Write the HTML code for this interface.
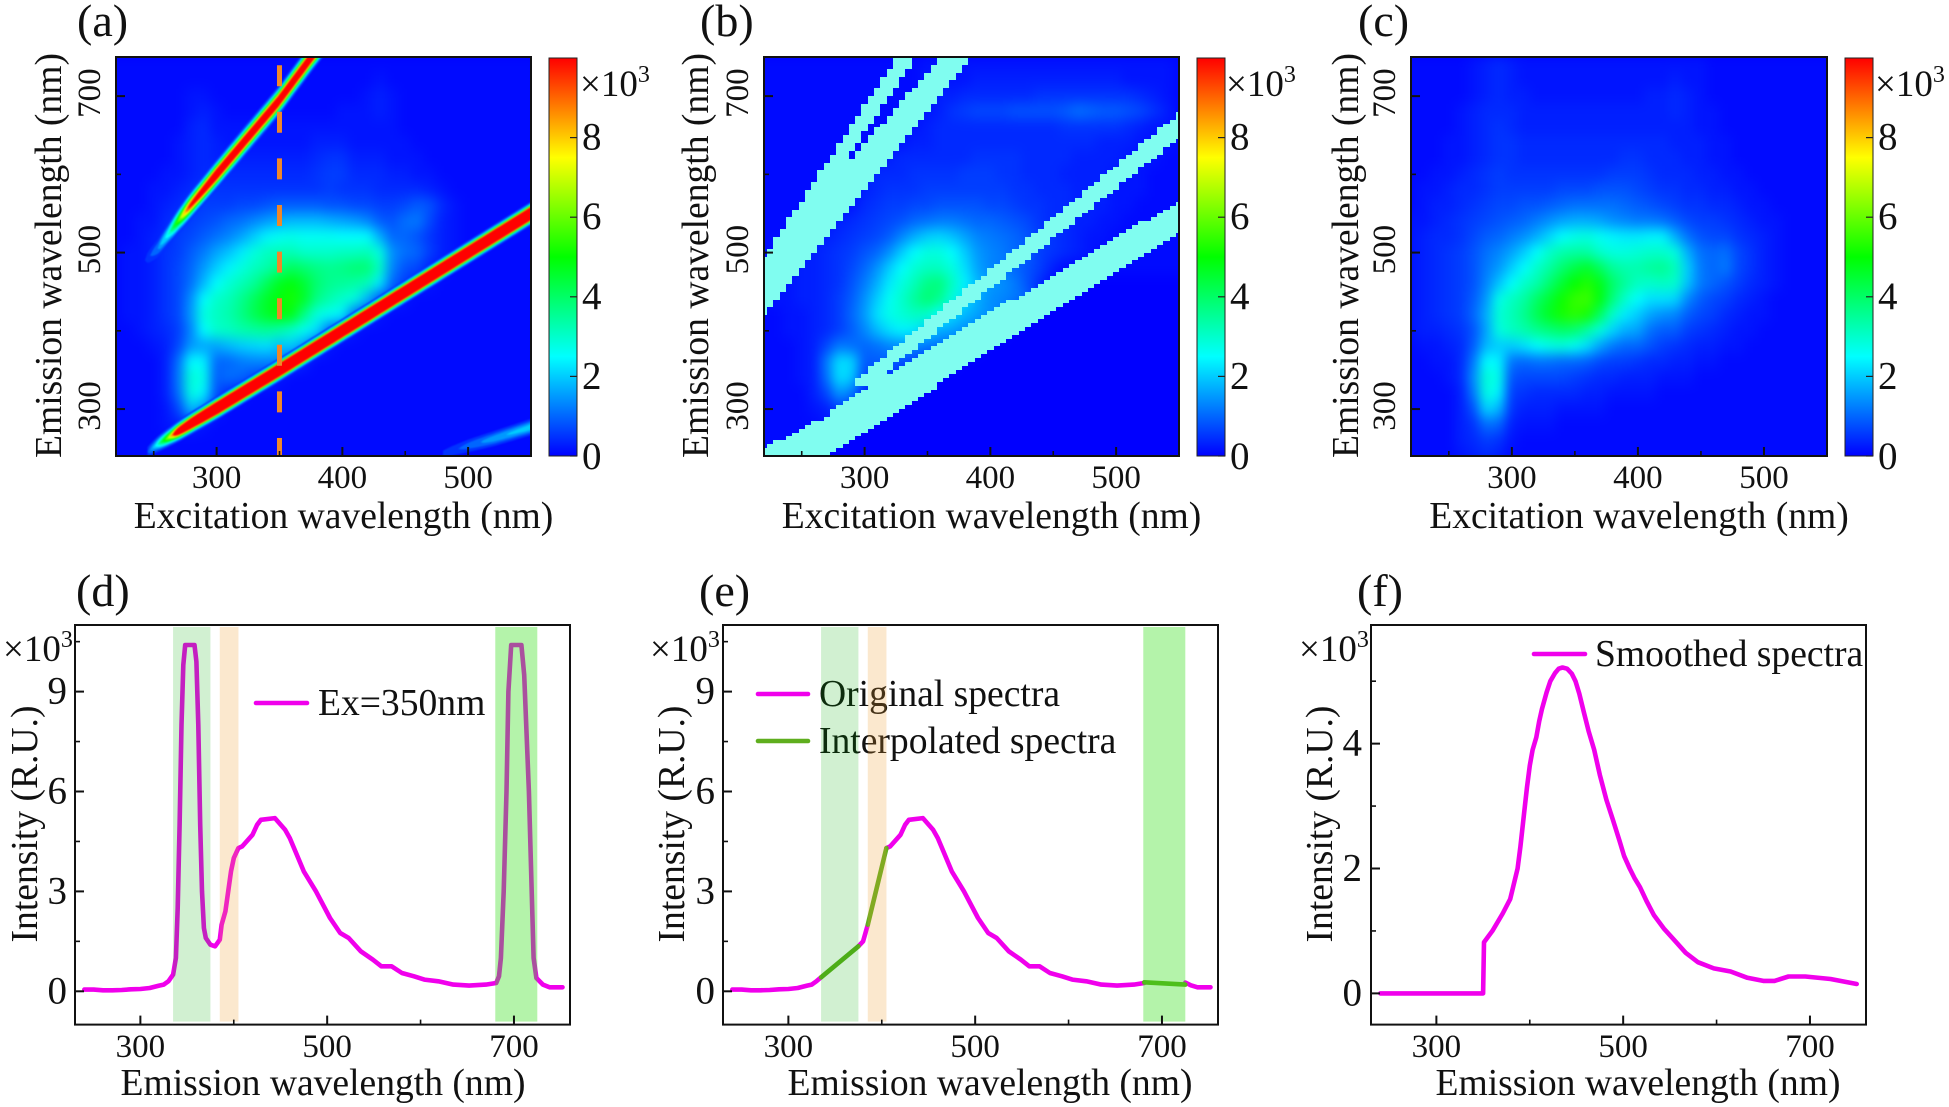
<!DOCTYPE html>
<html lang="en">
<head>
<meta charset="utf-8">
<title>Excitation-emission matrices and spectra</title>
<style>
html,body{margin:0;padding:0;background:#fff;width:1949px;height:1107px;overflow:hidden}
svg{display:block}
text{font-family:"Liberation Serif",serif;fill:#111}
</style>
</head>
<body>
<svg id="figure" xmlns="http://www.w3.org/2000/svg" width="1949" height="1107" viewBox="0 0 1949 1107">
<defs>
<filter id="heat-blur" x="-5%" y="-5%" width="110%" height="110%" color-interpolation-filters="sRGB"><feGaussianBlur stdDeviation="5.5 6.5"/></filter>
<filter id="band-blur" x="-5%" y="-5%" width="110%" height="110%" color-interpolation-filters="sRGB"><feGaussianBlur stdDeviation="0.9"/></filter>
</defs>
<rect x="0" y="0" width="1949" height="1107" fill="#ffffff"/>
</svg>
<script>
/* ---------- heatmap axes and values (intensity x10^3) ---------- */
const excitationValues=[220,230,240,250,260,270,280,290,300,310,320,330,340,350,360,370,380,390,400,410,420,430,440,450,460,470,480,490,500,510,520,530,540,550];
const emissionValues=[740,720,700,680,660,640,620,600,580,560,540,520,500,480,460,440,420,400,380,360,340,320,300,280,260,240];
const heatTicksX=[300,400,500];
const heatMinorTicksX=[250,350,450];
const heatTicksY=[300,500,700];
const heatMinorTicksY=[400,600];
const colorbarTicks=[0,2,4,6,8];
const colormapLevels=[0,2.5,5,7.5,10];
const colormapReds=[0,0,0,255,255];
const colormapGreens=[0,255,255,255,0];
const colormapBlues=[255,255,0,0,0];

const panelAValues=[
[.1,.1,.1,.1,.1,.1,.1,.1,.1,.1,.1,.1,.1,.1,.1,.1,.1,.1,.1,.1,.1,.1,.1,.1,.1,.1,.1,.1,.1,.1,.1,.1,.1,.1],
[.1,.1,.1,.1,.1,.1,.1,.1,.1,.1,.1,.1,.1,.1,.1,.1,.1,.1,.1,.1,.1,.2,.1,.1,.1,.1,.1,.1,.1,.1,.1,.1,.1,.1],
[.1,.1,.1,.1,.1,.1,.2,.2,.1,.1,.1,.1,.1,.1,.1,.1,.1,.1,.1,.1,.2,.3,.2,.1,.1,.1,.1,.1,.1,.1,.1,.1,.1,.1],
[.1,.1,.1,.1,.1,.1,.2,.3,.2,.1,.1,.1,.1,.1,.1,.1,.1,.1,.2,.2,.2,.3,.2,.1,.1,.1,.1,.1,.1,.1,.1,.1,.1,.1],
[.1,.1,.1,.1,.1,.1,.3,.4,.2,.2,.2,.2,.2,.2,.2,.2,.2,.2,.2,.2,.2,.2,.2,.1,.1,.1,.1,.1,.1,.1,.1,.1,.1,.1],
[.1,.1,.1,.1,.1,.2,.3,.4,.3,.2,.2,.2,.2,.2,.2,.2,.3,.3,.3,.2,.2,.2,.2,.2,.1,.1,.1,.1,.1,.1,.1,.1,.1,.1],
[.1,.1,.1,.1,.1,.2,.3,.4,.3,.3,.3,.3,.3,.3,.3,.3,.4,.5,.5,.3,.3,.3,.2,.2,.2,.1,.1,.1,.1,.1,.1,.1,.1,.1],
[.1,.1,.1,.1,.2,.2,.3,.4,.4,.4,.4,.4,.4,.4,.4,.4,.5,.6,.6,.4,.4,.4,.3,.3,.2,.2,.1,.1,.1,.1,.1,.1,.1,.1],
[.1,.1,.1,.2,.2,.3,.4,.5,.5,.5,.5,.5,.5,.5,.5,.5,.5,.6,.5,.5,.5,.4,.4,.4,.4,.3,.2,.1,.1,.1,.1,.1,.1,.1],
[.1,.1,.1,.2,.3,.4,.5,.6,.6,.6,.7,.7,.8,.9,.9,.9,.9,.8,.8,.7,.7,.6,.6,.7,.9,.8,.4,.2,.1,.1,.1,.1,.1,.1],
[.1,.1,.2,.2,.4,.5,.6,.7,.8,1,1.1,1.3,1.5,1.7,1.8,1.8,1.8,1.7,1.6,1.5,1.3,.9,.8,1.1,1.2,.7,.3,.2,.1,.1,.1,.1,.1,.1],
[.1,.1,.2,.3,.4,.6,.7,.9,1.1,1.3,1.6,2,2.4,2.6,2.7,2.6,2.6,2.6,2.5,2.5,2.5,1.7,1,1,.8,.5,.3,.2,.1,.1,.1,.1,.1,.1],
[.1,.2,.2,.3,.5,.6,.9,1.2,1.6,1.9,2.3,2.8,3.1,3.2,3.2,3,3,3,3.1,3.1,3.2,2.8,1.4,1.1,1,.6,.3,.2,.1,.1,.1,.1,.1,.1],
[.1,.2,.2,.3,.5,.7,1,1.5,2,2.4,2.8,3.1,3.3,3.7,4.1,3.9,3.7,3.6,3.7,3.9,3.9,3.1,1.3,.8,.7,.3,.2,.1,.1,.1,.1,.1,.1,.1],
[.1,.2,.2,.3,.5,.7,1.1,1.8,2.5,2.9,3.2,3.5,4.1,4.7,4.9,4.5,3.9,3.6,3.5,3.4,3.2,2.3,1,.6,.3,.2,.1,.1,.1,.1,.1,.1,.1,.1],
[.1,.2,.2,.3,.5,.7,1.4,2.5,3,3.2,3.6,4.1,4.6,4.9,5.2,4.6,3.7,3.3,3,2.8,1.8,.8,.4,.2,.1,.1,.1,.1,.1,.1,.1,.1,.1,.1],
[.1,.2,.2,.3,.5,.7,1.5,2.8,3.1,3.3,3.7,4.2,4.6,4.9,4.8,3.7,2.8,2.6,2.4,1,.5,.2,.1,.1,.1,.1,.1,.1,.1,.1,.1,.1,.1,.1],
[.1,.1,.2,.3,.4,.6,1.3,2.5,3,3.1,3.3,3.4,3.5,3.3,3,2.6,2.2,1,.5,.2,.1,.1,.1,.1,.1,.1,.1,.1,.1,.1,.1,.1,.1,.1],
[.1,.1,.1,.2,.3,.7,1.5,1.6,1.6,1.8,2,2.1,2.2,1.9,2,1.5,.6,.2,.1,.1,.1,.1,.1,.1,.1,.1,.1,.1,.1,.1,.1,.1,.1,.1],
[.1,.1,.1,.1,.3,1.1,2.5,2.4,1,1,1.2,1.3,1.3,1.3,.7,.3,.1,.1,.1,.1,.1,.1,.1,.1,.1,.1,.1,.1,.1,.1,.1,.1,.1,.1],
[.1,.1,.1,.1,.3,1.2,2.9,2.7,.9,1.1,1,.7,.5,.2,.1,.1,.1,.1,.1,.1,.1,.1,.1,.1,.1,.1,.1,.1,.1,.1,.1,.1,.1,.1],
[.1,.1,.1,.1,.3,1.1,2.8,2.4,.8,.4,.2,.1,.1,.1,.1,.1,.1,.1,.1,.1,.1,.1,.1,.1,.1,.1,.1,.1,.1,.1,.1,.1,.1,.1],
[.1,.1,.1,.1,.2,.7,1.9,1.4,.3,.1,.1,.1,.1,.1,.1,.1,.1,.1,.1,.1,.1,.1,.1,.1,.1,.1,.1,.1,.1,.1,.1,.1,.1,.1],
[.1,.1,.1,.1,.2,.3,.4,.2,.1,.1,.1,.1,.1,.1,.1,.1,.1,.1,.1,.1,.1,.1,.1,.1,.1,.1,.1,.1,.1,.1,.1,.1,.1,.1],
[.1,.1,.1,.1,.1,.1,.1,.1,.1,.1,.1,.1,.1,.1,.1,.1,.1,.1,.1,.1,.1,.1,.1,.1,.1,.1,.1,.1,.1,.1,.1,.1,.1,.1],
[.1,.1,.1,.1,.1,.1,.1,.1,.1,.1,.1,.1,.1,.1,.1,.1,.1,.1,.1,.1,.1,.1,.1,.1,.1,.1,.1,.1,.1,.1,.1,.1,.1,.1]
];

const panelBValues=[
[.1,.1,.1,.1,.1,.1,.1,.1,.1,.1,.1,.1,.1,.2,.2,.2,.2,.2,.2,.2,.2,.2,.2,.2,.2,.2,.2,.2,.2,.2,.2,.2,.2,.1],
[.1,.1,.1,.1,.1,.1,.1,.1,.1,.1,.1,.1,.1,.2,.2,.2,.2,.3,.3,.3,.3,.3,.3,.3,.3,.3,.3,.3,.3,.2,.2,.2,.2,.1],
[.1,.1,.1,.1,.1,.1,.1,.1,.1,.1,.1,.1,.1,.2,.3,.3,.4,.4,.4,.4,.4,.4,.5,.5,.5,.5,.5,.5,.5,.5,.4,.3,.2,.1],
[.1,.1,.1,.1,.1,.1,.1,.1,.1,.1,.1,.1,.2,.2,.3,.5,.6,.7,.7,.7,.8,.8,.8,.8,.9,1.1,1,.9,.9,.8,.7,.5,.3,.1],
[.1,.1,.1,.1,.1,.1,.1,.1,.1,.1,.1,.2,.2,.3,.4,.4,.4,.4,.4,.4,.4,.4,.4,.4,.5,.5,.5,.5,.5,.4,.3,.2,.2,.1],
[.1,.1,.1,.1,.1,.1,.1,.1,.1,.1,.2,.2,.3,.3,.4,.4,.4,.4,.4,.4,.4,.4,.4,.4,.4,.4,.4,.3,.3,.3,.2,.2,.2,.1],
[.1,.1,.1,.1,.1,.1,.1,.1,.1,.2,.3,.4,.4,.4,.4,.4,.4,.5,.5,.5,.5,.4,.4,.4,.4,.3,.3,.3,.3,.2,.2,.2,.1,.1],
[.1,.1,.1,.1,.1,.1,.1,.1,.3,.4,.4,.4,.5,.5,.5,.5,.6,.6,.6,.5,.5,.4,.4,.4,.3,.3,.3,.3,.2,.2,.2,.1,.1,.1],
[.1,.1,.1,.1,.1,.1,.1,.1,.3,.4,.5,.5,.5,.6,.6,.6,.6,.6,.6,.6,.5,.5,.4,.4,.4,.3,.3,.3,.2,.2,.2,.1,.1,.1],
[.1,.1,.1,.1,.1,.1,.1,.2,.4,.5,.6,.6,.7,.7,.8,.8,.8,.8,.7,.7,.6,.5,.5,.4,.4,.3,.3,.3,.2,.2,.1,.1,.1,.1],
[.1,.1,.1,.1,.1,.2,.3,.4,.5,.6,.7,.8,1,1.1,1.2,1.2,1.1,1,1,.9,.8,.7,.5,.4,.4,.3,.3,.2,.2,.1,.1,.1,.1,.1],
[.1,.1,.1,.2,.3,.3,.4,.5,.6,.7,.9,1.3,1.7,2,2.1,1.9,1.6,1.3,1.2,1.1,1,.8,.6,.5,.4,.3,.2,.2,.1,.1,.1,.1,.1,.1],
[.1,.2,.2,.3,.3,.4,.5,.6,.8,1,1.4,2,2.5,2.8,2.8,2.5,2,1.5,1.3,1.2,1,.9,.6,.5,.4,.3,.2,.1,.1,.1,.1,.1,.1,.1],
[.1,.2,.2,.3,.3,.4,.5,.7,1,1.4,2,2.5,2.9,3.1,3.1,2.8,2.2,1.6,1.3,1.2,1,.8,.6,.3,.1,.1,.1,.1,.1,.1,.1,.1,.1,.1],
[.1,.2,.2,.3,.3,.4,.5,.8,1.2,1.7,2.3,2.8,3.2,3.7,3.8,3.1,2.4,1.8,1.5,1.4,1.2,.8,.4,.1,0,0,0,0,0,0,0,0,0,0],
[.1,.2,.2,.3,.3,.4,.6,.9,1.4,2,2.6,3,3.5,3.9,3.6,2.8,2.2,1.7,1.4,1.3,1.2,1,.2,0,0,0,0,0,0,0,0,0,0,0],
[.1,.1,.2,.2,.3,.4,.6,1,1.5,2.2,2.7,2.9,3.1,3,2.5,2.1,1.8,1.6,1.4,1.2,.5,0,0,0,0,0,0,0,0,0,0,0,0,0],
[.1,.1,.2,.2,.3,.4,.6,.9,1.3,1.8,2.2,2.4,2.3,2,1.7,1.6,1.4,1.2,.6,.1,0,0,0,0,0,0,0,0,0,0,0,0,0,0],
[.1,.1,.1,.2,.3,.7,1.2,1.1,1,1.1,1.3,1.4,1.3,1.2,1.1,1,.8,.1,0,0,0,0,0,0,0,0,0,0,0,0,0,0,0,0],
[.1,.1,.1,.2,.3,1.2,2.2,2.1,.9,.9,.9,.8,.7,.5,.3,.1,0,0,0,0,0,0,0,0,0,0,0,0,0,0,0,0,0,0],
[.1,.1,.1,.2,.3,1.1,2.2,2,.7,.6,.5,.3,.1,0,0,0,0,0,0,0,0,0,0,0,0,0,0,0,0,0,0,0,0,0],
[.1,.1,.1,.1,.3,.7,1.5,1.2,.4,.3,.1,0,0,0,0,0,0,0,0,0,0,0,0,0,0,0,0,0,0,0,0,0,0,0],
[.1,.1,.1,.1,.2,.3,.6,.5,.1,0,0,0,0,0,0,0,0,0,0,0,0,0,0,0,0,0,0,0,0,0,0,0,0,0],
[.1,.1,.1,.1,.1,.2,.2,.1,0,0,0,0,0,0,0,0,0,0,0,0,0,0,0,0,0,0,0,0,0,0,0,0,0,0],
[.1,.1,.1,.1,.1,.1,0,0,0,0,0,0,0,0,0,0,0,0,0,0,0,0,0,0,0,0,0,0,0,0,0,0,0,0],
[.1,.1,.1,.1,.1,0,0,0,0,0,0,0,0,0,0,0,0,0,0,0,0,0,0,0,0,0,0,0,0,0,0,0,0,0]
];

const panelCValues=[
[.1,.1,.1,.1,.1,.2,.3,.4,.3,.2,.2,.2,.2,.2,.2,.2,.2,.2,.2,.2,.2,.2,.2,.2,.1,.1,.1,.1,.1,.1,.1,.1,.1,.1],
[.1,.1,.1,.1,.1,.2,.3,.4,.3,.2,.2,.2,.2,.2,.2,.2,.2,.2,.2,.2,.2,.3,.2,.2,.1,.1,.1,.1,.1,.1,.1,.1,.1,.1],
[.1,.1,.1,.1,.1,.2,.3,.4,.3,.3,.2,.2,.2,.2,.2,.2,.2,.2,.2,.3,.3,.4,.3,.2,.1,.1,.1,.1,.1,.1,.1,.1,.1,.1],
[.1,.1,.1,.1,.2,.3,.4,.4,.4,.3,.3,.3,.3,.3,.3,.3,.3,.3,.3,.3,.3,.4,.3,.2,.2,.1,.1,.1,.1,.1,.1,.1,.1,.1],
[.1,.1,.1,.1,.2,.3,.4,.5,.4,.3,.3,.3,.3,.3,.3,.3,.3,.3,.3,.3,.3,.3,.3,.2,.2,.1,.1,.1,.1,.1,.1,.1,.1,.1],
[.1,.1,.1,.2,.2,.3,.4,.5,.5,.4,.4,.4,.4,.4,.4,.4,.4,.4,.4,.4,.4,.3,.3,.3,.2,.2,.1,.1,.1,.1,.1,.1,.1,.1],
[.1,.1,.1,.2,.2,.3,.4,.5,.5,.4,.4,.4,.4,.4,.4,.4,.4,.5,.5,.4,.4,.4,.3,.3,.2,.2,.1,.1,.1,.1,.1,.1,.1,.1],
[.1,.1,.2,.2,.3,.4,.5,.6,.5,.5,.5,.5,.5,.5,.5,.5,.6,.6,.6,.5,.4,.4,.4,.3,.3,.2,.2,.1,.1,.1,.1,.1,.1,.1],
[.1,.2,.2,.3,.4,.4,.5,.6,.6,.6,.6,.6,.7,.7,.7,.8,.8,.8,.7,.6,.5,.5,.4,.4,.3,.3,.2,.2,.1,.1,.1,.1,.1,.1],
[.1,.2,.3,.3,.4,.5,.6,.7,.7,.8,.8,.9,1,1.1,1.1,1.1,1.1,1,.9,.8,.7,.6,.5,.5,.4,.4,.3,.2,.2,.1,.1,.1,.1,.1],
[.2,.2,.3,.4,.5,.6,.7,.8,.9,1,1.2,1.4,1.6,1.7,1.7,1.6,1.4,1.3,1.2,1.2,1.1,.9,.7,.6,.6,.5,.4,.3,.2,.2,.1,.1,.1,.1],
[.2,.3,.4,.4,.5,.7,.9,1,1.2,1.4,1.7,2.1,2.5,2.7,2.8,2.6,2.4,2.3,2.3,2.4,2.4,1.7,1.1,.8,.7,.7,.5,.4,.3,.2,.1,.1,.1,.1],
[.2,.3,.4,.5,.6,.8,1.1,1.3,1.6,2,2.5,3,3.3,3.4,3.4,3,2.8,2.8,2.9,3,3,2.8,1.7,1.1,1,1.1,.7,.5,.3,.2,.1,.1,.1,.1],
[.2,.3,.4,.5,.6,.8,1.2,1.5,2,2.5,3,3.4,3.9,4.3,4.6,4.1,3.5,3.3,3.3,3.5,3.6,3.2,2,1.2,1,1.2,.7,.5,.3,.2,.1,.1,.1,.1],
[.2,.3,.4,.5,.6,.8,1.3,1.9,2.5,3,3.3,3.9,4.5,5,5.3,4.8,4,3.5,3.1,3,3.1,3,1.9,1.2,1,.8,.6,.4,.3,.2,.1,.1,.1,.1],
[.2,.3,.4,.5,.6,.9,1.5,2.7,3.1,3.4,4,4.5,5.1,5.5,5.6,4.9,3.8,3,2.5,2.2,2.2,2.1,1.3,.9,.7,.6,.4,.3,.2,.1,.1,.1,.1,.1],
[.2,.3,.4,.5,.6,1,1.7,2.9,3.2,3.6,4.2,4.7,5.2,5.4,5.2,4.1,3,2.3,2,1.6,1.4,1.3,.9,.7,.6,.4,.3,.2,.2,.1,.1,.1,.1,.1],
[.2,.3,.3,.4,.5,.8,1.6,2.8,3.1,3.3,3.6,3.8,4,3.9,3.4,2.8,2.1,1.7,1.6,1.1,.9,.9,.6,.5,.4,.3,.2,.2,.1,.1,.1,.1,.1,.1],
[.1,.2,.2,.3,.4,.9,1.8,2,2,2.2,2.5,2.7,2.8,2.6,2.2,1.6,1.2,1,1,.8,.6,.5,.4,.3,.3,.2,.2,.1,.1,.1,.1,.1,.1,.1],
[.1,.1,.2,.2,.4,1.2,2.5,2.4,1.1,1,1.1,1.1,1,1,.9,.7,.6,.6,.5,.4,.4,.3,.3,.2,.2,.1,.1,.1,.1,.1,.1,.1,.1,.1],
[.1,.1,.1,.2,.4,1.4,2.9,2.7,.8,.7,.7,.7,.7,.6,.5,.4,.4,.3,.3,.3,.2,.2,.2,.1,.1,.1,.1,.1,.1,.1,.1,.1,.1,.1],
[.1,.1,.1,.1,.3,1.2,2.8,2.4,.6,.5,.4,.4,.4,.4,.3,.3,.2,.2,.2,.2,.1,.1,.1,.1,.1,.1,.1,.1,.1,.1,.1,.1,.1,.1],
[.1,.1,.1,.1,.3,.8,2.1,1.8,.5,.3,.3,.3,.2,.2,.2,.2,.1,.1,.1,.1,.1,.1,.1,.1,.1,.1,.1,.1,.1,.1,.1,.1,.1,.1],
[.1,.1,.1,.1,.3,.5,1.1,1,.3,.2,.2,.2,.1,.1,.1,.1,.1,.1,.1,.1,.1,.1,.1,.1,.1,.1,.1,.1,.1,.1,.1,.1,.1,.1],
[.1,.1,.1,.1,.3,.4,.6,.5,.2,.1,.1,.1,.1,.1,.1,.1,.1,.1,.1,.1,.1,.1,.1,.1,.1,.1,.1,.1,.1,.1,.1,.1,.1,.1],
[.1,.1,.1,.1,.2,.3,.4,.3,.1,.1,.1,.1,.1,.1,.1,.1,.1,.1,.1,.1,.1,.1,.1,.1,.1,.1,.1,.1,.1,.1,.1,.1,.1,.1]
];

/* scatter ridges in panel (a): excitation, emission, peak intensity */
const rayleighExcitation=[245,252,258,264,270,280,300,350,400,450,500,552];
const rayleighEmission=[245,254,260,266,272,282,301,350,400,450,500,552];
const rayleighPeak=[1,2.5,5,8,14,20,28,30,30,30,30,30];
const secondOrderExcitation=[243,253,262,270,278,300,330,349,374,385];
const secondOrderEmission=[490,505,525,542,558,600,657,693,747,770];
const secondOrderPeak=[.5,1.5,3,6,10,14,14,14,14,14];
const halfOrderExcitation=[480,500,520,552];
const halfOrderEmission=[243,253,262,278];
const halfOrderPeak=[.6,1.2,1.8,2.4];

/* scatter removal regions in panel (b) */
const maskMainExcitation=[215,268,306,407,552];
const maskMainLower=[187,240,278,380,525];
const maskMainUpper=[245,290,334,430,568];
const maskRamanExcitation=[292,306,360,400,450,500,552];
const maskRamanLower=[330,334,403,454,518,582,649];
const maskRamanUpper=[336,355,426,479,545,611,681];
const maskSecondExcitation=[215,260,300,340,390];
const maskSecondLower=[410,500,580,660,760];
const maskSecondUpper=[488,568,640,712,802];
const maskThinExcitation=[220,229,236,280,320,350];
const maskThinLower=[480,490,499,605,700,772];
const maskThinUpper=[496,516,533,639,736,808];

/* ---------- spectra ---------- */
const spectrumTicksX=[300,500,700];
const spectrumMinorTicksX=[400,600];
const rawTicksY=[0,3,6,9];
const rawMinorTicksY=[1.5,4.5,7.5,10.5];
const smoothTicksY=[0,2,4];
const smoothMinorTicksY=[1,3,5];

const rawWavelength=[240,250,260,270,280,290,300,310,320,325,330,335,338,340,342,344,346,348,358,360,362,364,366,368,370,375,380,385,387,391,394,397,400,405,409,420,425,429,444,455,460,466,475,488,503,514,523,536,549,558,569,580,593,604,619,635,652,670,681,684,686,689,692,694,697,708,711,716,719,721,724,731,738,752];
const rawIntensity=[.05,.05,.03,.03,.04,.06,.07,.1,.17,.2,.3,.5,1,2.5,5,8,9.8,10.4,10.4,9.9,8,5,3,1.9,1.6,1.4,1.35,1.55,2,2.4,3,3.6,4,4.3,4.35,4.7,5,5.15,5.2,4.85,4.6,4.2,3.6,3,2.2,1.75,1.6,1.2,.95,.75,.75,.55,.45,.35,.3,.2,.17,.2,.25,.45,1,3,6,9,10.4,10.4,9.5,6,3,1,.4,.2,.12,.12];
const originalWavelength=[240,250,260,270,280,290,300,310,320,325,330,335,null,375,380,385,null,405,409,420,425,429,444,455,460,466,475,488,503,514,523,536,549,558,569,580,593,604,619,635,652,670,681,null,725,731,738,752];
const originalIntensity=[.05,.05,.03,.03,.04,.06,.07,.1,.17,.2,.3,.42,null,1.35,1.5,2,null,4.3,4.35,4.7,5,5.15,5.2,4.85,4.6,4.2,3.6,3,2.2,1.75,1.6,1.2,.95,.75,.75,.55,.45,.35,.3,.2,.17,.2,.25,null,.26,.18,.12,.12];
const interpolatedWavelength=[335,375,null,385,405,null,681,725];
const interpolatedIntensity=[.42,1.35,null,2,4.3,null,.27,.2];
const smoothWavelength=[240,280,320,350,351,360,371,379,387,390,394,397,400,403,407,410,413,418,422,427,431,435,440,445,449,453,458,463,469,475,482,489,496,501,507,512,518,525,533,544,555,567,580,597,615,633,650,662,677,695,722,750];
const smoothIntensity=[0,0,0,0,.82,1,1.28,1.51,2,2.35,2.9,3.3,3.65,3.9,4.1,4.35,4.55,4.82,5,5.13,5.2,5.22,5.2,5.12,5,4.8,4.5,4.2,3.9,3.5,3.1,2.78,2.45,2.2,2,1.85,1.7,1.48,1.25,1.03,.85,.65,.5,.4,.35,.25,.2,.2,.27,.27,.23,.15];
const shadeStart=[335,385,680];
const shadeEnd=[375,405,725];

/* ---------- helpers ---------- */
const svg=document.getElementById('figure');
const NS='http://www.w3.org/2000/svg';
function make(tag,attrs,parent){
  const n=document.createElementNS(NS,tag);
  for(const k in attrs){n.setAttribute(k,attrs[k]);}
  parent.appendChild(n);
  return n;
}
function label(str,x,y,size,parent,anchor,rotate){
  const attrs={x:x,y:y,'font-size':size,'text-anchor':anchor||'middle'};
  if(rotate){attrs.transform='rotate(-90 '+x+' '+y+')';}
  const n=make('text',attrs,parent);
  n.textContent=str;
  return n;
}
function multiplier(x,y,parent){
  const n=make('text',{x:x,y:y,'font-size':37},parent);
  n.textContent='×10';
  const sup=make('tspan',{dy:-14,'font-size':24},n);
  sup.textContent='3';
  
  
  return n;
}
function colorFor(v){
  const t=Math.max(0,Math.min(10,v));
  let i=0;
  while(i<colormapLevels.length-2&&t>colormapLevels[i+1]){i++;}
  const f=(t-colormapLevels[i])/(colormapLevels[i+1]-colormapLevels[i]);
  const r=Math.round(colormapReds[i]+f*(colormapReds[i+1]-colormapReds[i]));
  const g=Math.round(colormapGreens[i]+f*(colormapGreens[i+1]-colormapGreens[i]));
  const b=Math.round(colormapBlues[i]+f*(colormapBlues[i+1]-colormapBlues[i]));
  return 'rgb('+r+','+g+','+b+')';
}
function lerp(xs,ys,x){
  if(x<=xs[0]){return ys[0];}
  for(let i=1;i<xs.length;i++){
    if(x<=xs[i]){return ys[i-1]+(x-xs[i-1])/(xs[i]-xs[i-1])*(ys[i]-ys[i-1]);}
  }
  return ys[ys.length-1];
}

/* colorbar gradient */
const defs=svg.querySelector('defs');
const grad=make('linearGradient',{id:'jet-gradient',x1:0,y1:1,x2:0,y2:0},defs);
colormapLevels.forEach(function(l){
  make('stop',{offset:(l/10),'stop-color':colorFor(l)},grad);
});

/* ---------- heatmap panels ---------- */
const TOP=57,BOTTOM=456;
const heatPanels=[
 {id:'a',left:116,right:531,barL:549,barR:577,letterX:77,yTitleX:61,yTickX:100,multX:580,values:panelAValues},
 {id:'b',left:764,right:1179,barL:1197,barR:1225,letterX:700,yTitleX:708,yTickX:748,multX:1226,values:panelBValues},
 {id:'c',left:1411,right:1827,barL:1845,barR:1873,letterX:1358,yTitleX:1358,yTickX:1395,multX:1875,values:panelCValues}
];
function drawHeat(p){
  const exS=function(ex){return p.left+(ex-220)/330*(p.right-p.left);};
  const emS=function(em){return BOTTOM-(em-240)/510*(BOTTOM-TOP);};
  const g=make('g',{},svg);
  
  
  const clip=make('clipPath',{id:'clip-'+p.id},defs);
  make('rect',{x:p.left,y:TOP,width:p.right-p.left,height:BOTTOM-TOP},clip);
  const plot=make('g',{'clip-path':'url(#clip-'+p.id+')'},g);
  
  
  const base=make('rect',{x:p.left,y:TOP,width:p.right-p.left,height:BOTTOM-TOP,fill:'#0000ff'},plot);
  
  
  const cells=make('g',{filter:'url(#heat-blur)'},plot);
  
  
  p.values.forEach(function(row,r){
    row.forEach(function(v,c){
      const ex=excitationValues[c],em=emissionValues[r];
      const cell=make('rect',{x:exS(ex-5)-.5,y:emS(em+10)-.5,width:exS(ex+5)-exS(ex-5)+1,height:emS(em-10)-emS(em+10)+1,fill:colorFor(v)},cells);
      
      
    });
  });
  if(p.id==='a'){
    const ridges=make('g',{filter:'url(#band-blur)'},plot);
    
    
    drawRidge(ridges,rayleighExcitation,rayleighEmission,rayleighPeak,5.4,exS,emS);
    drawRidge(ridges,secondOrderExcitation,secondOrderEmission,secondOrderPeak,7.6,exS,emS);
    drawRidge(ridges,halfOrderExcitation,halfOrderEmission,halfOrderPeak,6,exS,emS);
    const guide=make('line',{x1:exS(350),x2:exS(350),y1:459,y2:TOP,stroke:'#f0872a','stroke-width':5,'stroke-dasharray':'21 25.6'},plot);
    
    
  }
  if(p.id==='b'){
    const masks=make('g',{'shape-rendering':'crispEdges'},plot);
    
    
    drawMask(masks,maskMainExcitation,maskMainLower,maskMainUpper,exS,emS);
    drawMask(masks,maskRamanExcitation,maskRamanLower,maskRamanUpper,exS,emS);
    drawMask(masks,maskSecondExcitation,maskSecondLower,maskSecondUpper,exS,emS);
    drawMask(masks,maskThinExcitation,maskThinLower,maskThinUpper,exS,emS);
  }
  const frame=make('rect',{x:p.left,y:TOP,width:p.right-p.left,height:BOTTOM-TOP,fill:'none',stroke:'#111','stroke-width':2},g);
  
  
  heatTicksX.forEach(function(t){
    const m=make('line',{x1:exS(t),x2:exS(t),y1:BOTTOM,y2:BOTTOM-9,stroke:'#111','stroke-width':2},g);
    
    
    const l=label(String(t),exS(t),488,33,g);
    
    
  });
  heatMinorTicksX.forEach(function(t){
    const m=make('line',{x1:exS(t),x2:exS(t),y1:BOTTOM,y2:BOTTOM-5,stroke:'#111','stroke-width':1.6},g);
    
    
  });
  heatTicksY.forEach(function(t){
    const m=make('line',{x1:p.left,x2:p.left+9,y1:emS(t),y2:emS(t),stroke:'#111','stroke-width':2},g);
    
    
    const l=label(String(t),p.yTickX,emS(t)-3,33,g,'middle',true);
    
    
  });
  heatMinorTicksY.forEach(function(t){
    const m=make('line',{x1:p.left,x2:p.left+5,y1:emS(t),y2:emS(t),stroke:'#111','stroke-width':1.6},g);
    
    
  });
  const xt=label('Excitation wavelength (nm)',(p.left+p.right)/2+20,528,37.6,g);
  
  
  const yt=label('Emission wavelength (nm)',p.yTitleX,255.5,37.6,g,'middle',true);
  
  
  const letter=label('('+p.id+')',p.letterX,36,46,g,'start');
  
  
  const bar=make('rect',{x:p.barL,y:58,width:p.barR-p.barL,height:BOTTOM-58,fill:'url(#jet-gradient)',stroke:'#222','stroke-width':1},g);
  
  
  colorbarTicks.forEach(function(t){
    const y=BOTTOM-t/10*(BOTTOM-58);
    const m=make('line',{x1:p.barR-7,x2:p.barR,y1:y,y2:y,stroke:'#222','stroke-width':1.2},g);
    
    
    const l=label(String(t),p.barR+5,y+(t===0?13:12),39,g,'start');
    
    
  });
  const mult=multiplier(p.multX,96,g);
  
  
}
function drawRidge(parent,exs,ems,peaks,sigma,exS,emS){
  const levels=[];
  for(let l=.5;l<=10;l+=.5){levels.push(l);}
  levels.forEach(function(level){
    const up=[],down=[];
    for(let ex=exs[0];ex<=exs[exs.length-1];ex+=2){
      const c=lerp(exs,ems,ex),pk=lerp(exs,peaks,ex);
      const hw=pk>level?sigma*Math.sqrt(2*Math.log(pk/level)):0;
      up.push(exS(ex).toFixed(1)+','+emS(c+hw).toFixed(1));
      down.unshift(exS(ex).toFixed(1)+','+emS(c-hw).toFixed(1));
    }
    const poly=make('polygon',{points:up.concat(down).join(' '),fill:colorFor(level)},parent);
    
    
  });
}
function drawMask(parent,exs,lower,upper,exS,emS){
  const start=Math.ceil(exs[0]/5)*5,end=exs[exs.length-1];
  for(let ex=start;ex<end;ex+=5){
    const lo=Math.round(lerp(exs,lower,ex)/5)*5,hi=Math.round(lerp(exs,upper,ex)/5)*5;
    const cell=make('rect',{x:Math.round(exS(ex-2.5)),y:Math.round(emS(hi)),width:Math.round(exS(ex+2.5))-Math.round(exS(ex-2.5)),height:Math.round(emS(lo))-Math.round(emS(hi)),fill:'#80fdf0'},parent);
    
    
  }
}
heatPanels.forEach(drawHeat);

/* ---------- spectrum panels ---------- */
const STOP=625,SBOTTOM=1024.6;
const spectrumPanels=[
 {id:'d',left:75,right:570,ymin:-1,ymax:11,ticks:rawTicksY,minor:rawMinorTicksY,letterX:76,yTitleX:37,tickX:67,multX:3,shade:true,xTitle:323},
 {id:'e',left:723,right:1218,ymin:-1,ymax:11,ticks:rawTicksY,minor:rawMinorTicksY,letterX:699,yTitleX:684,tickX:715,multX:650,shade:true,xTitle:990},
 {id:'f',left:1371,right:1866,ymin:-.5,ymax:5.9,ticks:smoothTicksY,minor:smoothMinorTicksY,letterX:1357,yTitleX:1332,tickX:1362,multX:1299,shade:false,xTitle:1638}
];
function pathFrom(xs,ys,xS,yS){
  let d='',pen=false;
  xs.forEach(function(x,i){
    if(x===null||ys[i]===null){pen=false;return;}
    d+=(pen?'L':'M')+xS(x).toFixed(1)+' '+yS(ys[i]).toFixed(1);
    pen=true;
  });
  return d;
}
function drawSpectrum(p){
  const xS=function(w){return p.left+(w-230)/530*(p.right-p.left);};
  const yS=function(v){return SBOTTOM-(v-p.ymin)/(p.ymax-p.ymin)*(SBOTTOM-STOP);};
  const g=make('g',{},svg);
  
  
  const lineStyle={fill:'none','stroke-width':4.6,'stroke-linejoin':'round','stroke-linecap':'round'};
  function curve(xs,ys,color,name){
    const attrs=Object.assign({d:pathFrom(xs,ys,xS,yS),stroke:color},lineStyle);
    const c=make('path',attrs,g);
    
    
  }
  function legendLine(x1,x2,y,color){
    const c=make('line',{x1:x1,x2:x2,y1:y,y2:y,stroke:color,'stroke-width':4.6,'stroke-linecap':'round'},g);
    
    
  }
  if(p.id==='d'){
    curve(rawWavelength,rawIntensity,'#f000ec','excitation-350-spectrum');
    legendLine(256,307,703,'#f000ec');
    const t=label('Ex=350nm',318,715,37.6,g,'start');
    
    
  }
  if(p.id==='e'){
    curve(originalWavelength,originalIntensity,'#f000ec','original-spectrum');
    curve(interpolatedWavelength,interpolatedIntensity,'#5fae1e','interpolated-spectrum');
    legendLine(758,808,694,'#f000ec');
    legendLine(758,808,741,'#5fae1e');
    const t1=label('Original spectra',819,706,37.6,g,'start');
    
    
    const t2=label('Interpolated spectra',819,753,37.6,g,'start');
    
    
  }
  if(p.id==='f'){
    curve(smoothWavelength,smoothIntensity,'#f000ec','smoothed-spectrum');
    legendLine(1534,1585,654,'#f000ec');
    const t=label('Smoothed spectra',1595,666,37.6,g,'start');
    
    
  }
  if(p.shade){
    const fills=['rgba(0,170,0,.18)','rgba(240,160,50,.24)','rgba(47,222,20,.36)'];
    shadeStart.forEach(function(s,i){
      const r=make('rect',{x:xS(s),y:STOP+2,width:xS(shadeEnd[i])-xS(s),height:SBOTTOM-STOP-5,fill:fills[i]},g);
      
      
    });
  }
  const frame=make('rect',{x:p.left,y:STOP,width:p.right-p.left,height:SBOTTOM-STOP,fill:'none',stroke:'#111','stroke-width':2},g);
  
  
  spectrumTicksX.forEach(function(t){
    const m=make('line',{x1:xS(t),x2:xS(t),y1:SBOTTOM,y2:SBOTTOM-9,stroke:'#111','stroke-width':2},g);
    
    
    const l=label(String(t),xS(t),1057,33,g);
    
    
  });
  spectrumMinorTicksX.forEach(function(t){
    const m=make('line',{x1:xS(t),x2:xS(t),y1:SBOTTOM,y2:SBOTTOM-5,stroke:'#111','stroke-width':1.6},g);
    
    
  });
  p.ticks.forEach(function(t){
    const m=make('line',{x1:p.left,x2:p.left+9,y1:yS(t),y2:yS(t),stroke:'#111','stroke-width':2},g);
    
    
    const l=label(String(t),p.tickX,yS(t)+12,39,g,'end');
    
    
  });
  p.minor.forEach(function(t){
    const m=make('line',{x1:p.left,x2:p.left+5,y1:yS(t),y2:yS(t),stroke:'#111','stroke-width':1.6},g);
    
    
  });
  const xt=label('Emission wavelength (nm)',p.xTitle,1095,37.6,g);
  
  
  const yt=label('Intensity (R.U.)',p.yTitleX,824,37.6,g,'middle',true);
  
  
  const letter=label('('+p.id+')',p.letterX,606,46,g,'start');
  
  
  const mult=multiplier(p.multX,661,g);
  
  
}
spectrumPanels.forEach(drawSpectrum);
</script>
</body>
</html>
